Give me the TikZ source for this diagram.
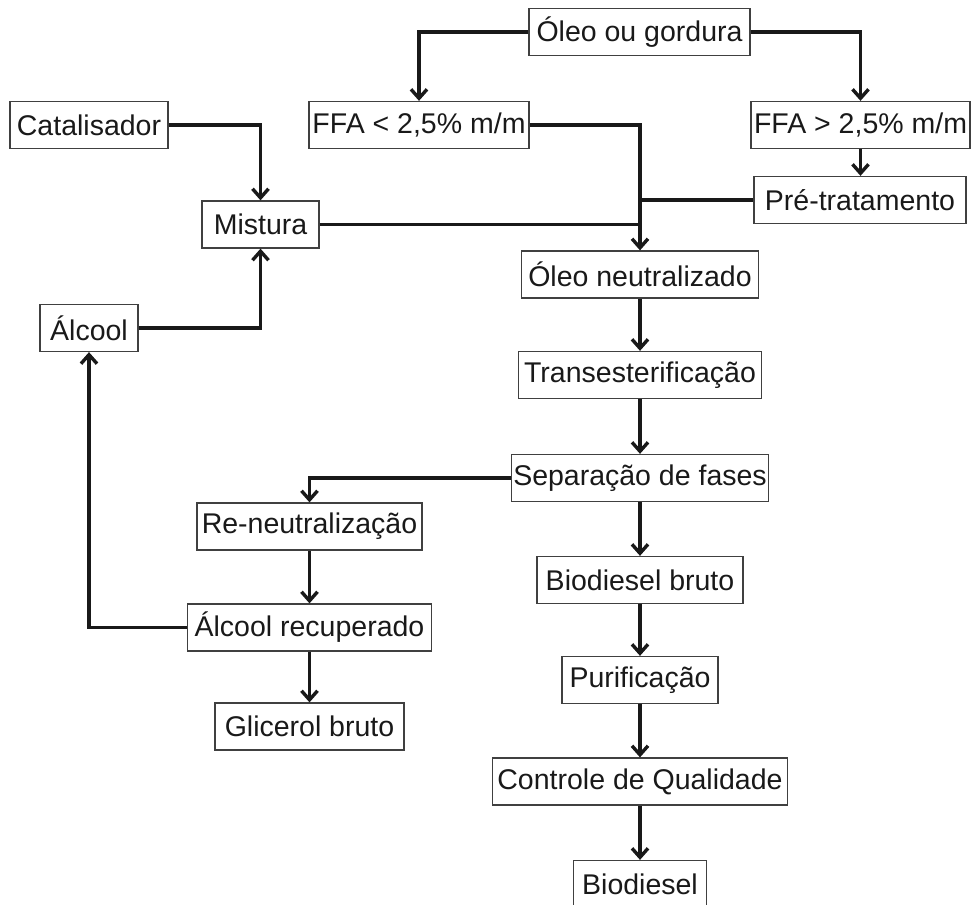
\documentclass[tikz,border=0pt]{standalone}
\usepackage{fontspec}
\setmainfont{Liberation Sans}
\usetikzlibrary{arrows.meta}

\begin{document}
\begin{tikzpicture}[x=1pt, y=-1pt,
  box/.style={draw=black!75, line width=1.3pt, text=black!90,
    minimum width=#1, minimum height=47pt, inner xsep=2pt, inner ysep=0pt,
    font=\fontsize{28.5}{30}\selectfont},
  flow/.style={line width=3.4pt, draw=black!90,
    -{Straight Barb[length=9pt,width=16pt]}},
  link/.style={line width=3.4pt, draw=black!90}]
  \useasboundingbox (0,0) rectangle (973,904);

  % Boxes
  \node[box=221] (oleo)   at (639.5,32)  {Óleo ou gordura};
  \node[box=220] (ffaL)   at (419,125)   {FFA < 2,5\% m/m};
  \node[box=219] (ffaH)   at (860.5,125) {FFA > 2,5\% m/m};
  \node[box=212] (pre)    at (860,200)   {Pré-tratamento};
  \node[box=158] (cat)    at (89,125)    {Catalisador};
  \node[box=117] (mist)   at (260.5,224.5) {Mistura};
  \node[box=98]  (alc)    at (89,328)    {Álcool};
  \node[box=237] (neut)   at (640,274.5) {Óleo neutralizado};
  \node[box=243] (trans)  at (640,375)   {Transesterificação};
  \node[box=254] (sep)    at (640,478)   {Separação de fases};
  \node[box=225] (reneut) at (309.5,526.5) {Re-neutralização};
  \node[box=244] (alcrec) at (309.5,627.5) {Álcool recuperado};
  \node[box=189] (glic)   at (309.5,726.5) {Glicerol bruto};
  \node[box=206] (bbruto) at (640,580)   {Biodiesel bruto};
  \node[box=156] (purif)  at (640,680)   {Purificação};
  \node[box=295] (cq)     at (640,781.5) {Controle de Qualidade};
  \node[box=133] (bio)    at (640,884)   {Biodiesel};

  % Oil branches
  \draw[flow] (oleo.west) -| (ffaL.north);
  \draw[flow] (oleo.east) -| (ffaH.north);
  \draw[flow] (ffaH.south) -- (ffaH.south |- pre.north);
  \draw[flow] (ffaL.east) -| (neut.north);
  \draw[link] (pre.west) -- (pre.west -| neut.north);

  % Mixture of catalyst and alcohol
  \draw[flow] (cat.east) -| (mist.north);
  \draw[flow] (alc.east) -| (mist.south);
  \draw[link] (mist.east) -- (mist.east -| neut.north);

  % Main line
  \draw[flow] (neut) -- (trans);
  \draw[flow] (trans) -- (sep);
  \draw[flow] (sep) -- (bbruto);
  \draw[flow] (bbruto) -- (purif);
  \draw[flow] (purif) -- (cq);
  \draw[flow] (cq) -- (bio);

  % Glycerol side and alcohol recovery
  \draw[flow] (sep.west) -| (reneut.north);
  \draw[flow] (reneut) -- (alcrec);
  \draw[flow] (alcrec) -- (glic);
  \draw[flow] (alcrec.west) -| (alc.south);
\end{tikzpicture}
\end{document}
